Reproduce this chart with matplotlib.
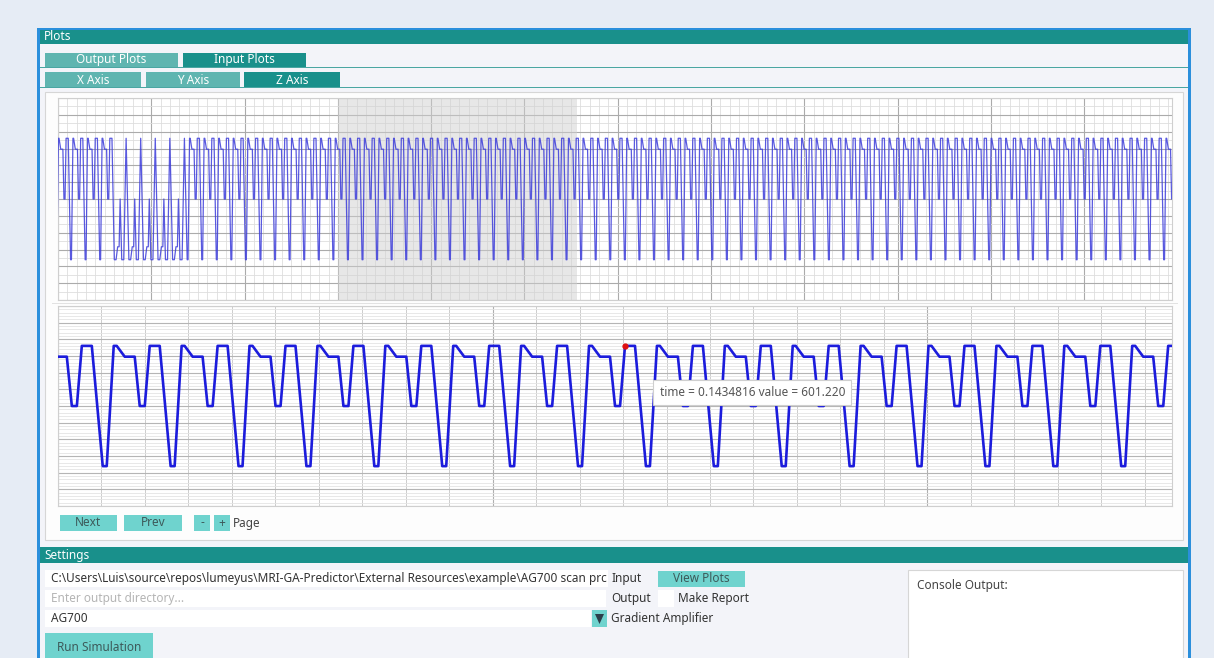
import numpy as np
import matplotlib
matplotlib.use('Agg')
import matplotlib.pyplot as plt
from matplotlib.patches import Rectangle, Polygon
from matplotlib.ticker import MultipleLocator, NullFormatter

plt.rcParams['font.family'] = ['Noto Sans', 'DejaVu Sans']

# --- Data ---
# one period of the gradient waveform, as fractions of a period and values
PERIOD = 0.005207
FIRST_DIP = 0.10343          # start of the first negative plateau in the zoomed view
NORMAL_FRAC = [0.0, 0.059, 0.162, 0.206, 0.324, 0.471, 0.545, 0.619, 0.692, 0.839]
NORMAL_VAL = [-601.22, -601.22, 601.22, 601.22, 493.0, 493.0, 0.0, 0.0, 601.22, 601.22]
# the few irregular periods near the start of the overview
ODD_FRAC = [0.0, 0.12, 0.23, 0.33, 0.40, 0.51, 0.65, 0.81]
ODD_VAL = [-601.22, -601.22, -473.0, -473.0, 0.0, -601.22, -601.22, 601.22]
PERIOD_KINDS = ['n'] * 4 + ['o'] * 5 + ['n'] * 68

OVERVIEW_RANGE = (0.0, 0.398)
ZOOM_RANGE = (0.1, 0.18543)
Y_RANGE = (-1000, 1000)
HOVER_TIME = 0.1434816
HOVER_VALUE = 601.220

main_tabs = ['Output Plots', 'Input Plots']
axis_tabs = ['X Axis', 'Y Axis', 'Z Axis']
input_path = r'C:\Users\Luis\source\repos\lumeyus\MRI-GA-Predictor\External Resources\example\AG700 scan prc'

# build the trace from the period shapes
shapes = {'n': (NORMAL_FRAC, NORMAL_VAL), 'o': (ODD_FRAC, ODD_VAL)}
t0 = FIRST_DIP - 20 * PERIOD
times, values = [], []
for i, kind in enumerate(PERIOD_KINDS):
    fr, vals = shapes[kind]
    times.extend(t0 + (i + np.array(fr)) * PERIOD)
    values.extend(vals)

W, H = 1214, 658
fig = plt.figure(figsize=(W / 100, H / 100), dpi=100)
fig.patch.set_facecolor('#e6ecf5')

TEAL = '#19908b'
LIGHT_TAB = '#5fb5b0'
BUTTON = '#6fd3ce'


def box(x0, y0, x1, y1, fc, ec='none', lw=0, z=1):
    fig.add_artist(Rectangle((x0 / W, 1 - y1 / H), (x1 - x0) / W, (y1 - y0) / H,
                             transform=fig.transFigure, fc=fc, ec=ec, lw=lw, zorder=z))


def label(x, y, s, color='#333333', size=8.5, ha='left', z=6):
    return fig.text(x / W, 1 - y / H, s, color=color, fontsize=size, ha=ha, va='center', zorder=z)


# window frame
box(37, 28, 1191, 660, '#2b8fdc', z=0.5)
box(40, 30, 1188, 660, '#f3f4f9', z=0.6)
box(40, 30, 1188, 44, TEAL)
label(44, 37, 'Plots', color='white')

# tab rows
box(45, 53, 178, 67, LIGHT_TAB)
box(183, 53, 306, 67, TEAL)
box(40, 67, 1188, 68, '#4aa6a2')
for cx, s in zip([111, 244], main_tabs):
    label(cx, 60, s, color='white', ha='center')
box(45, 72, 141, 87, LIGHT_TAB)
box(146, 72, 240, 87, LIGHT_TAB)
box(244, 72, 340, 87, TEAL)
box(40, 87, 1188, 88, '#4aa6a2')
for cx, s in zip([93, 193, 292], axis_tabs):
    label(cx, 80, s, color='white', ha='center')

# plot container
box(45, 92, 1183, 540, '#fdfdfd', ec='#d6d6d6', lw=0.8)
box(52, 303, 1178, 304, '#e2e2e2', z=2)

# plots
ax_top = fig.add_axes([58 / W, 1 - 300 / H, 1114 / W, 202 / H], zorder=5)
ax_bot = fig.add_axes([58 / W, 1 - 506 / H, 1114 / W, 200 / H], zorder=5)

for ax, rng in [(ax_top, OVERVIEW_RANGE), (ax_bot, ZOOM_RANGE)]:
    ax.set_facecolor('white')
    ax.set_xlim(*rng)
    ax.set_ylim(*Y_RANGE)
    ax.xaxis.set_major_locator(MultipleLocator(1 / 30))
    ax.xaxis.set_minor_locator(MultipleLocator(1 / 300))
    ax.yaxis.set_major_locator(MultipleLocator(2000 / 12))
    ax.tick_params(which='both', length=0, labelbottom=False, labelleft=False)
    ax.xaxis.set_minor_formatter(NullFormatter())
    ax.yaxis.set_minor_formatter(NullFormatter())
    for sp in ax.spines.values():
        sp.set_color('#cfcfcf')
        sp.set_linewidth(0.8)
    ax.set_axisbelow(True)

ax_top.yaxis.set_minor_locator(MultipleLocator(2000 / 24))
ax_top.grid(which='major', color='#ababab', lw=0.8)
ax_top.grid(which='minor', color='#dedede', lw=0.6)
ax_bot.yaxis.set_minor_locator(MultipleLocator(2000 / 60))
ax_bot.grid(which='major', axis='x', color='#b0b0b0', lw=0.8)
ax_bot.grid(which='minor', axis='x', color='#cdcdcd', lw=0.7)
ax_bot.grid(which='major', axis='y', color='#b5b5b5', lw=0.8)
ax_bot.grid(which='minor', axis='y', color='#e4e4e4', lw=0.6)

ax_top.axvspan(*ZOOM_RANGE, color='#d0d0d0', alpha=0.5, lw=0, zorder=1)
ax_top.plot(times, values, color='#3c3cda', lw=0.9, alpha=0.85, zorder=3)
ax_bot.plot(times, values, color='#1c1cdc', lw=1.9, zorder=3)
ax_bot.plot([HOVER_TIME], [HOVER_VALUE], 'o', color='#e01010', ms=3.5, zorder=4)

# hover tooltip
box(653, 380, 851, 405, 'white', ec='#cfcfcf', lw=0.8, z=7)
label(660, 392.5, f'time = {HOVER_TIME} value = {HOVER_VALUE:.3f}', color='#555555', z=8)

# page buttons
for x0, x1, s in [(60, 117, 'Next'), (124, 182, 'Prev'), (194, 210, '-'), (214, 230, '+')]:
    box(x0, 515, x1, 531, BUTTON)
    label((x0 + x1) / 2, 523, s, color='#3d5a5a', ha='center')
label(233, 523, 'Page', color='#444444')

# settings panel
box(40, 547, 1188, 563, TEAL)
label(44, 555, 'Settings', color='white')
box(45, 570, 608, 587, 'white')
box(45, 590, 606, 607, 'white')
box(45, 610, 591, 627, 'white')
label(51, 578.5, input_path, color='#333333', size=8.5)
label(51, 598.5, 'Enter output directory...', color='#b5b5b5')
label(51, 618.5, 'AG700', color='#333333')
box(592, 610, 607, 627, BUTTON)
fig.add_artist(Polygon([[595 / W, 1 - 614 / H], [604 / W, 1 - 614 / H], [599.5 / W, 1 - 624 / H]],
                       closed=True, transform=fig.transFigure, fc='#2b3e4a', ec='none', zorder=6))
label(611, 578.5, 'Input')
label(611, 598.5, 'Output')
label(611, 618.5, 'Gradient Amplifier')
box(658, 571, 745, 587, BUTTON)
label(701, 578.5, 'View Plots', color='#3d5a5a', ha='center')
box(658, 590, 674, 607, 'white')
label(678, 598.5, 'Make Report')
box(45, 633, 153, 660, BUTTON)
label(99, 647.5, 'Run Simulation', color='#3d5a5a', ha='center')
box(908, 570, 1183, 660, 'white', ec='#d6d6d6', lw=0.8)
label(917, 586, 'Console Output:', color='#444444')

fig.savefig('out.png', dpi=100, facecolor=fig.get_facecolor())
